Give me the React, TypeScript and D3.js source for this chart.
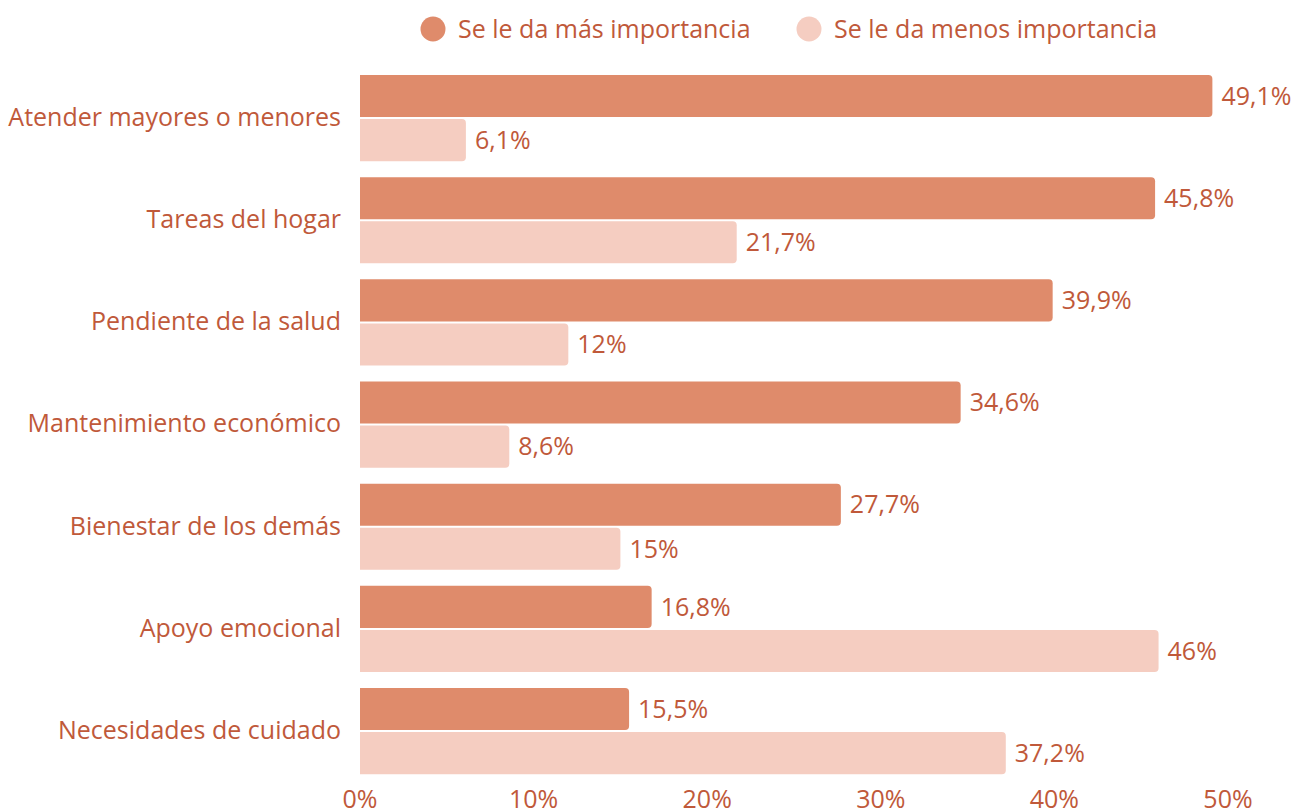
import React from "react";
import * as d3 from "d3";

const categories = [
  "Atender mayores o menores",
  "Tareas del hogar",
  "Pendiente de la salud",
  "Mantenimiento económico",
  "Bienestar de los demás",
  "Apoyo emocional",
  "Necesidades de cuidado",
];
const seriesNames = ["Se le da más importancia", "Se le da menos importancia"];
const masImportancia = [49.1, 45.8, 39.9, 34.6, 27.7, 16.8, 15.5];
const menosImportancia = [6.1, 21.7, 12, 8.6, 15, 46, 37.2];
const tickValues = [0, 10, 20, 30, 40, 50];

const colors = ["#df8b6b", "#f5cdc1"];
const textColor = "#c0593a";
const font = "'Open Sans', sans-serif";
const FS = 25;

function barPath(x0: number, y: number, w: number, h: number, r: number) {
  const rr = Math.min(r, w, h / 2);
  return `M${x0},${y}H${x0 + w - rr}Q${x0 + w},${y} ${x0 + w},${y + rr}V${y + h - rr}Q${x0 + w},${y + h} ${x0 + w - rr},${y + h}H${x0}Z`;
}

const fmt = (v: number) => String(v).replace(".", ",") + "%";

export default function App() {
  const W = 1306, H = 810;
  const x = d3.scaleLinear().domain([0, 50]).range([360, 1228]);
  const y = d3.scaleBand<string>().domain(categories).range([75, 774.2]).paddingInner(0.1566).paddingOuter(0);
  const ys = d3.scaleBand<number>().domain([0, 1]).range([0, y.bandwidth()]).paddingInner(0.04545);
  const series = [masImportancia, menosImportancia];
  return (
    <svg width={W} height={H} style={{ position: "absolute", left: 0, top: 0, fontFamily: font }}>
      <g>
        <circle cx={433} cy={29} r={12.5} fill={colors[0]} />
        <text x={458} y={29} dy="0.35em" fontSize={FS} fill={textColor}>{seriesNames[0]}</text>
        <circle cx={809} cy={29} r={12.5} fill={colors[1]} />
        <text x={834} y={29} dy="0.35em" fontSize={FS} fill={textColor}>{seriesNames[1]}</text>
      </g>
      {categories.map((c, i) => {
        const y0 = y(c)!;
        return (
          <g key={c}>
            <text x={341} y={y0 + y.bandwidth() / 2 - 1} dy="0.35em" textAnchor="end" fontSize={FS} fill={textColor}>{c}</text>
            {series.map((s, k) => {
              const by = y0 + ys(k)!;
              const bh = ys.bandwidth();
              const w = x(s[i]) - x(0);
              return (
                <g key={k}>
                  <path d={barPath(x(0), by, w, bh, 4)} fill={colors[k]} />
                  <text x={x(s[i]) + 9} y={by + bh / 2} dy="0.35em" fontSize={FS} fill={textColor}>{fmt(s[i])}</text>
                </g>
              );
            })}
          </g>
        );
      })}
      {tickValues.map((t) => (
        <text key={t} x={x(t)} y={808} textAnchor="middle" fontSize={FS} fill={textColor}>{t + "%"}</text>
      ))}
    </svg>
  );
}
